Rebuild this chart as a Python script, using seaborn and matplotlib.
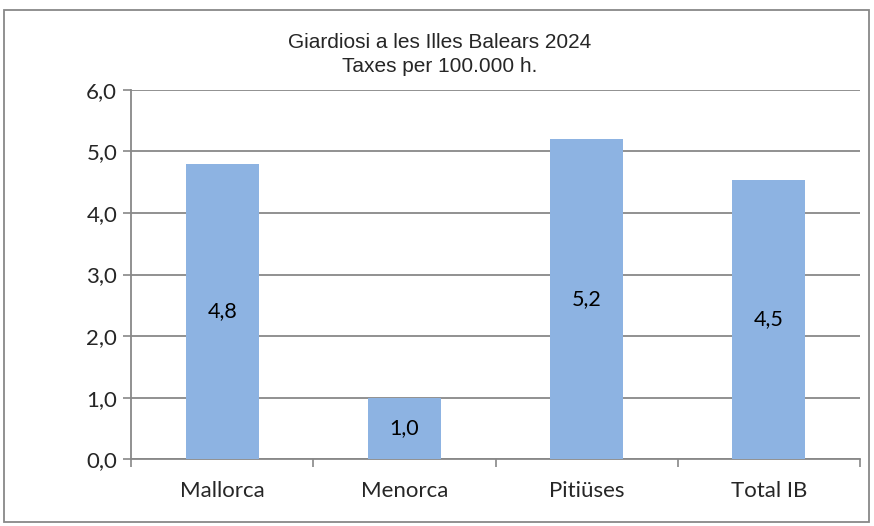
import matplotlib
matplotlib.use('Agg')
import matplotlib.pyplot as plt
import seaborn as sns
import pandas as pd
from matplotlib.patches import Rectangle
from matplotlib.ticker import FixedLocator, FuncFormatter

# Data
islands = ['Mallorca', 'Menorca', 'Pitiüses', 'Total IB']
rates = [4.8, 1.0, 5.2, 4.54]

df = pd.DataFrame({'zona': islands, 'taxa': rates})

sns.set_theme(style='white')
plt.rcParams['font.family'] = ['Lato', 'DejaVu Sans']

fig = plt.figure(figsize=(8.74, 5.26), dpi=100)
ax = fig.add_axes([0.150, 0.127, 0.834, 0.702])

sns.barplot(data=df, x='zona', y='taxa', color='#8DB3E2', width=0.4,
            saturation=1, linewidth=0, ax=ax, zorder=3)

# value labels inside bars, comma decimal
labels = ['{:.1f}'.format(v).replace('.', ',') for v in rates]
ax.bar_label(ax.containers[0], labels=labels, label_type='center',
             fontsize=15.5, color='black')

ax.set_ylim(0, 6)
ax.set_xlim(-0.5, 3.5)
ax.set_yticks([0, 1, 2, 3, 4, 5, 6])
ax.yaxis.set_major_formatter(FuncFormatter(lambda v, p: '{:.1f}'.format(v).replace('.', ',')))
ax.yaxis.grid(True, color='#888888', linewidth=1.3, zorder=0)
ax.set_axisbelow(True)

# x ticks at category boundaries, labels at centres
ax.xaxis.set_major_locator(FixedLocator([-0.5, 0.5, 1.5, 2.5, 3.5]))
ax.xaxis.set_major_formatter(FuncFormatter(lambda v, p: ''))
ax.xaxis.set_minor_locator(FixedLocator([0, 1, 2, 3]))
ax.set_xticklabels(islands, minor=True)
ax.tick_params(axis='x', which='major', length=6, width=1.2, color='#888888', direction='out', bottom=True)
ax.tick_params(axis='x', which='minor', length=0, labelsize=16, pad=16)
ax.tick_params(axis='y', length=6, width=1.2, color='#888888', direction='out', left=True, labelsize=16, pad=4)

for side in ['top', 'right']:
    ax.spines[side].set_visible(False)
for side in ['left', 'bottom']:
    ax.spines[side].set_color('#888888')
    ax.spines[side].set_linewidth(1.3)

ax.set_xlabel('')
ax.set_ylabel('')

fig.text(0.503, 0.920, 'Giardiosi a les Illes Balears 2024', ha='center', va='center',
         fontsize=15, family=['Liberation Sans', 'DejaVu Sans'])
fig.text(0.503, 0.874, 'Taxes per 100.000 h.', ha='center', va='center',
         fontsize=15, family=['Liberation Sans', 'DejaVu Sans'])

# outer chart border
fig.patches.append(Rectangle((0.005, 0.008), 0.989, 0.973, transform=fig.transFigure,
                             fill=False, edgecolor='#888888', linewidth=1.3))

fig.savefig('out.png', dpi=100)
